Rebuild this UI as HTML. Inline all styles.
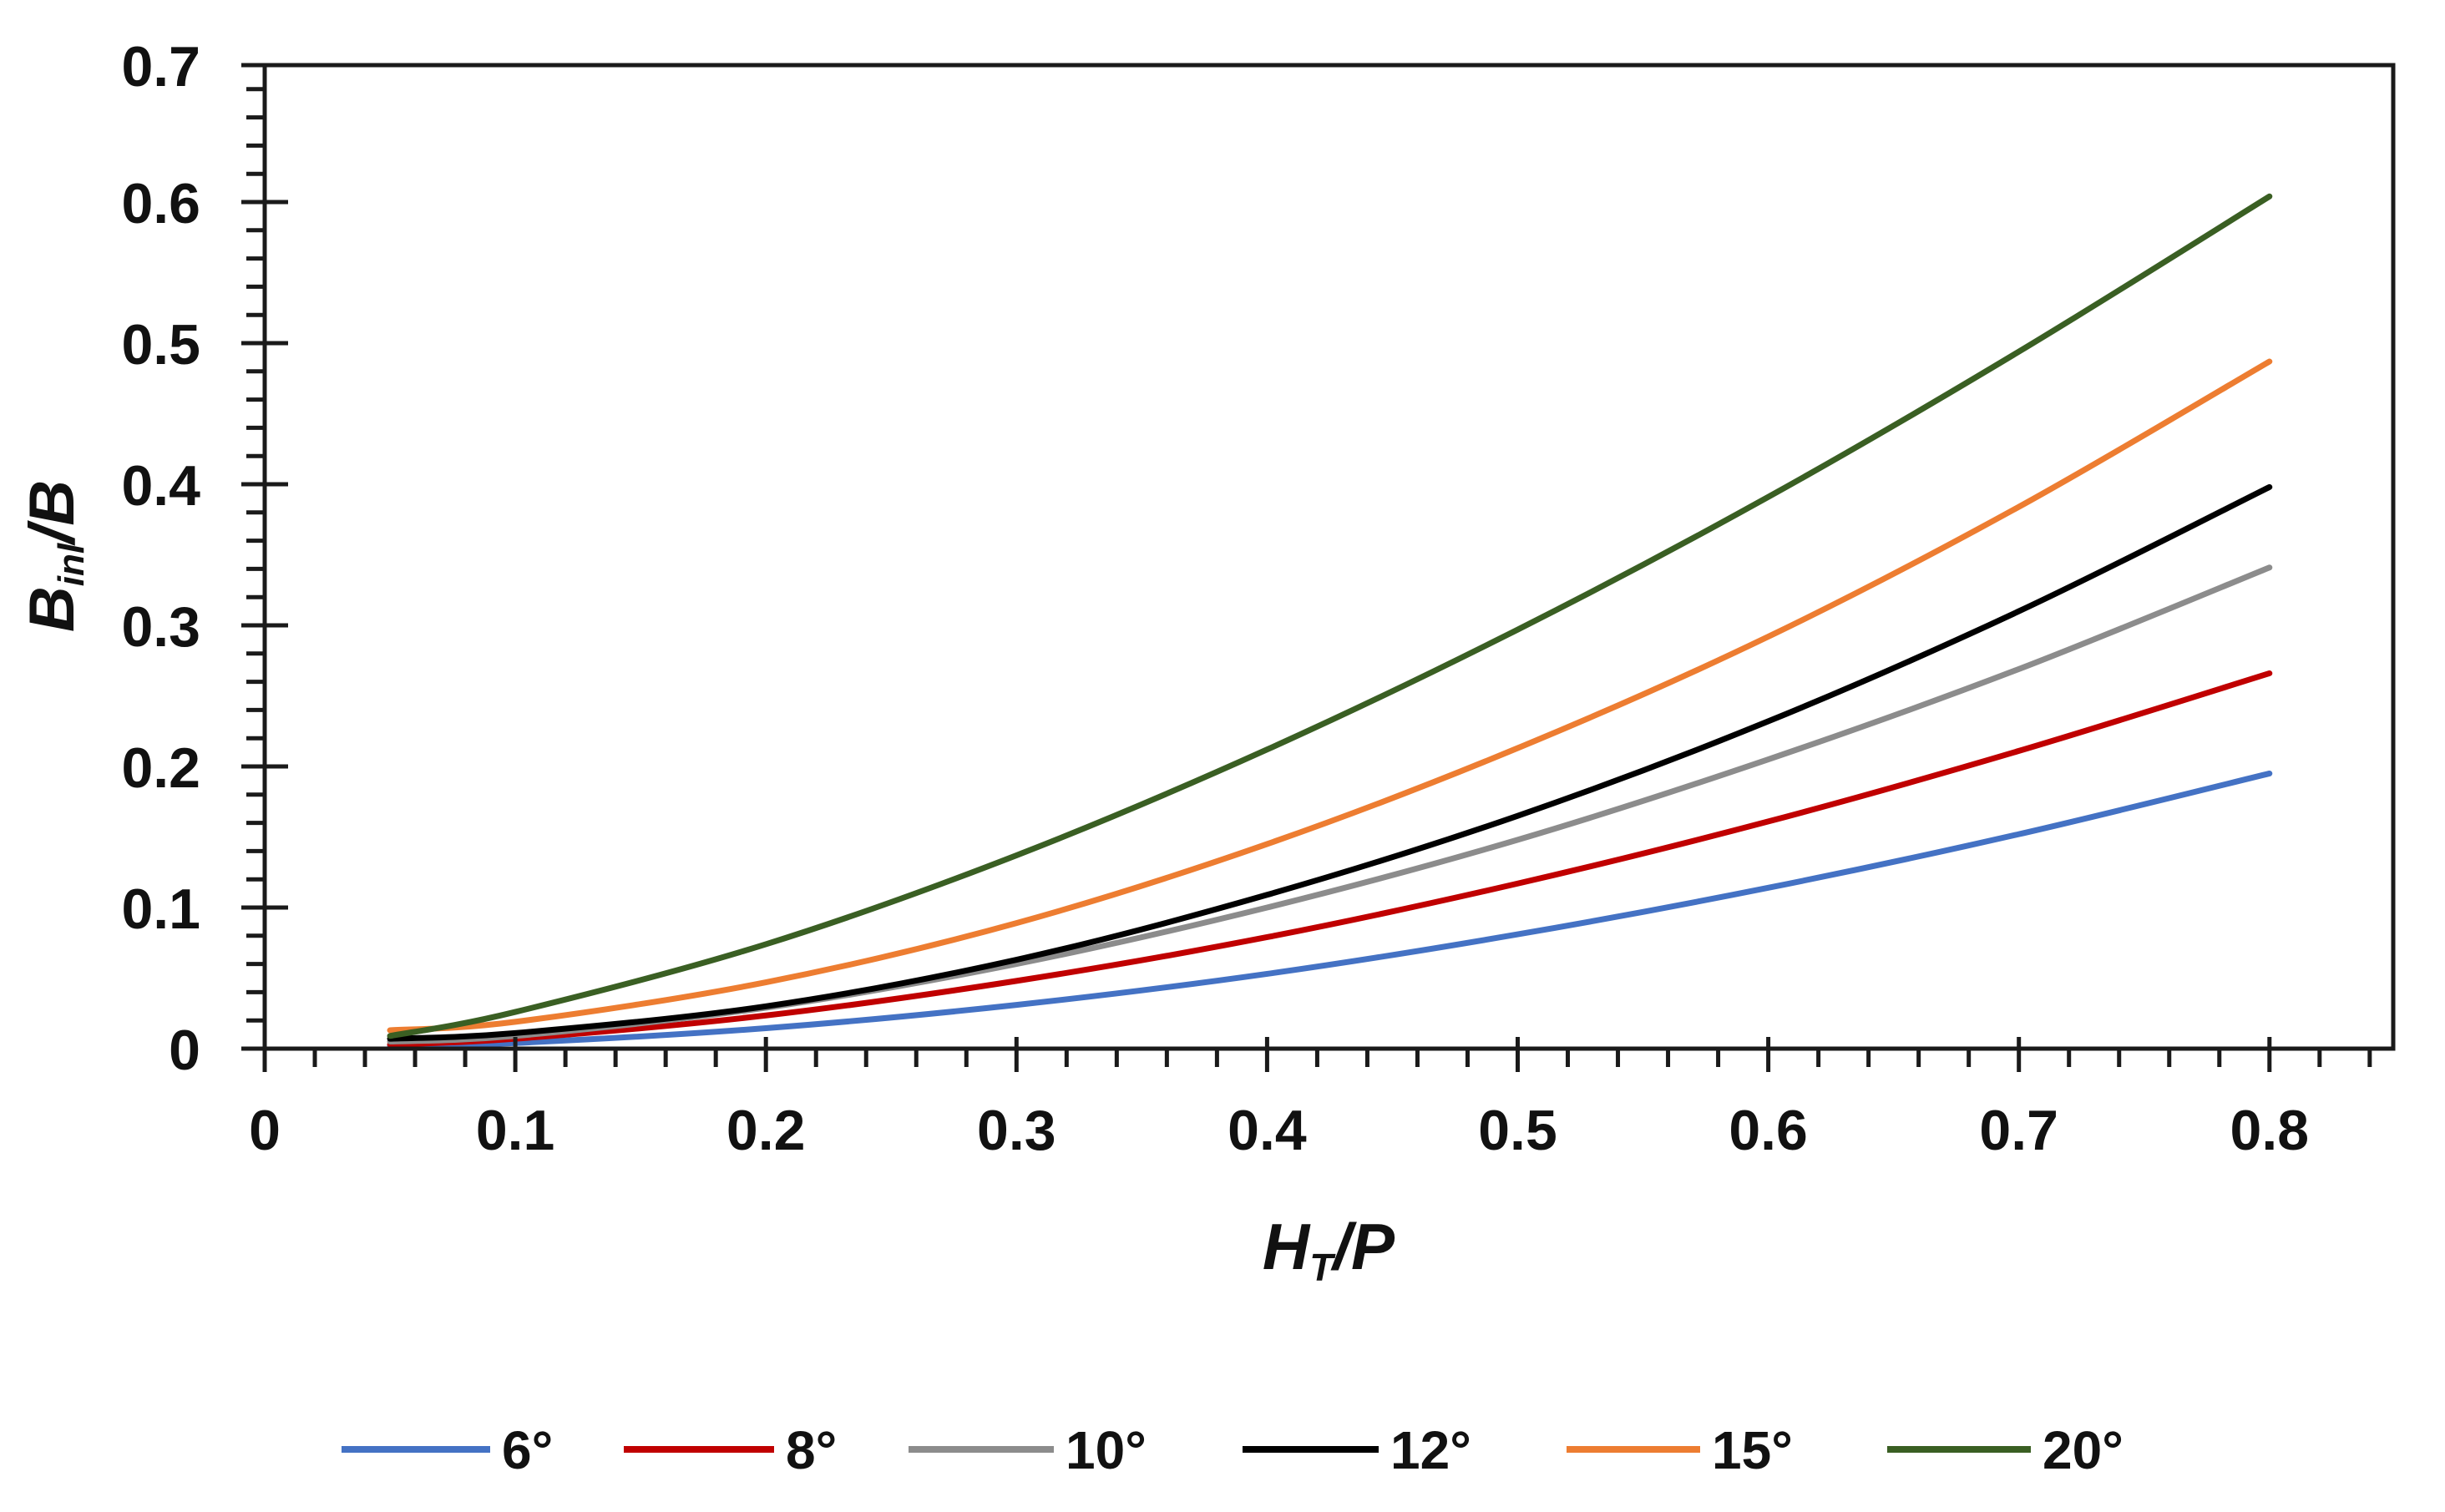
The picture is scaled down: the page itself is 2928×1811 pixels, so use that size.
<!DOCTYPE html>
<html><head><meta charset="utf-8"><style>
html,body{margin:0;padding:0;background:#fff;}
svg{display:block;}
text{font-family:"Liberation Sans",sans-serif;font-weight:bold;fill:#111;}
</style></head><body>
<svg id="chart" width="2928" height="1811" viewBox="0 0 2928 1811" xmlns="http://www.w3.org/2000/svg">
<rect x="0" y="0" width="2928" height="1811" fill="#fff"/>
<g id="plot"></g>
<g id="axes"></g>
<text x="1591" y="1520" text-anchor="middle" font-size="78" font-style="italic">H<tspan font-size="46" dy="14">T</tspan><tspan dy="-14">/P</tspan></text>
<text transform="translate(88,666) rotate(-90)" text-anchor="middle" font-size="76" font-style="italic">B<tspan font-size="44" dy="12">inl</tspan><tspan dy="-12">/B</tspan></text>
<g id="legend"></g>
</svg>
<script>
const xValues = [0.05, 0.1, 0.2, 0.3, 0.4, 0.5, 0.6, 0.7, 0.8];
const seriesNames = ["6°", "8°", "10°", "12°", "15°", "20°"];
const s6 = [0.002, 0.004, 0.0145, 0.031, 0.053, 0.081, 0.114, 0.152, 0.195];
const s8 = [0.003, 0.007, 0.0235, 0.048, 0.079, 0.117, 0.161, 0.211, 0.266];
const s10 = [0.005, 0.009, 0.029, 0.060, 0.100, 0.148, 0.205, 0.269, 0.341];
const s12 = [0.007, 0.011, 0.030, 0.063, 0.109, 0.165, 0.232, 0.310, 0.398];
const s15 = [0.013, 0.019, 0.047, 0.089, 0.145, 0.213, 0.292, 0.384, 0.487];
const s20 = [0.009, 0.026, 0.074, 0.137, 0.212, 0.297, 0.391, 0.494, 0.604];
const xTickLabels = ["0", "0.1", "0.2", "0.3", "0.4", "0.5", "0.6", "0.7", "0.8"];
const yTickLabels = ["0", "0.1", "0.2", "0.3", "0.4", "0.5", "0.6", "0.7"];

const colors = ["#4472c4", "#c00000", "#8c8c8c", "#000000", "#ed7d31", "#3a5f23"];
const allSeries = [s6, s8, s10, s12, s15, s20];
const NS = "http://www.w3.org/2000/svg";
const L = 317, R = 2866, T = 78, B = 1256;
const X0 = 317, XPER = 300.1;
const YPER = 169;
function sx(v){ return X0 + v * 10 * XPER; }
function sy(v){ return B - v * 10 * YPER; }
function mk(tag, attrs, parent){
  const e = document.createElementNS(NS, tag);
  for (const k in attrs) e.setAttribute(k, attrs[k]);
  parent.appendChild(e); return e;
}
const plot = document.getElementById('plot');
const axes = document.getElementById('axes');
const legend = document.getElementById('legend');

allSeries.forEach((s, i) => {
  const pts = xValues.map((x, j) => [sx(x), sy(s[j])]);
  let d = "M" + pts[0][0] + "," + pts[0][1];
  for (let j = 0; j < pts.length - 1; j++) {
    const p0 = pts[Math.max(0, j-1)], p1 = pts[j], p2 = pts[j+1], p3 = pts[Math.min(pts.length-1, j+2)];
    const c1 = [p1[0] + (p2[0]-p0[0])/6, p1[1] + (p2[1]-p0[1])/6];
    const c2 = [p2[0] - (p3[0]-p1[0])/6, p2[1] - (p3[1]-p1[1])/6];
    d += " C" + c1[0] + "," + c1[1] + " " + c2[0] + "," + c2[1] + " " + p2[0] + "," + p2[1];
  }
  const p = mk('path', {d: d, fill: 'none', stroke: colors[i], 'stroke-width': 7, 'stroke-linecap': 'round'}, plot);
  
  
});

const frame = mk('rect', {x: L, y: T, width: R-L, height: B-T, fill: 'none', stroke: '#1a1a1a', 'stroke-width': 5}, axes);



for (let k = 0; k <= 42; k++) {
  const v = k * 0.02;
  const x = sx(v);
  if (x > R - 5) break;
  const major = k % 5 === 0;
  const t = mk('line', {x1: x, x2: x, y1: major ? B - 14 : B, y2: major ? B + 28 : B + 22, stroke: '#1a1a1a', 'stroke-width': 5}, axes);
  
  
}
xTickLabels.forEach((lab, i) => {
  const t = mk('text', {x: sx(i * 0.1), y: 1377, 'text-anchor': 'middle', 'font-size': 68}, axes);
  t.textContent = lab;
  
  
});

for (let k = 0; k <= 35; k++) {
  const v = k * 0.02;
  const y = (k === 35) ? T : sy(v);
  if (y < T - 1) break;
  const major = k % 5 === 0;
  const t = mk('line', {x1: major ? L - 28 : L - 22, x2: major ? L + 28 : L, y1: y, y2: y, stroke: '#1a1a1a', 'stroke-width': 5}, axes);
  
  
}
yTickLabels.forEach((lab, i) => {
  const y = (i === 7) ? T : sy(i * 0.1);
  const t = mk('text', {x: 240, y: y + 25, 'text-anchor': 'end', 'font-size': 68}, axes);
  t.textContent = lab;
  
  
});

const legLines = [[409, 587], [747, 927], [1088, 1262], [1488, 1651], [1876, 2036], [2260, 2432]];
seriesNames.forEach((n, i) => {
  const g = mk('g', {}, legend);
  
  
  const ln = mk('line', {x1: legLines[i][0], x2: legLines[i][1], y1: 1736, y2: 1736, stroke: colors[i], 'stroke-width': 8}, g);
  
  
  const t = mk('text', {x: legLines[i][1] + 14, y: 1759, 'font-size': 64}, g);
  t.textContent = n;
  
  
});
</script>
</body></html>
